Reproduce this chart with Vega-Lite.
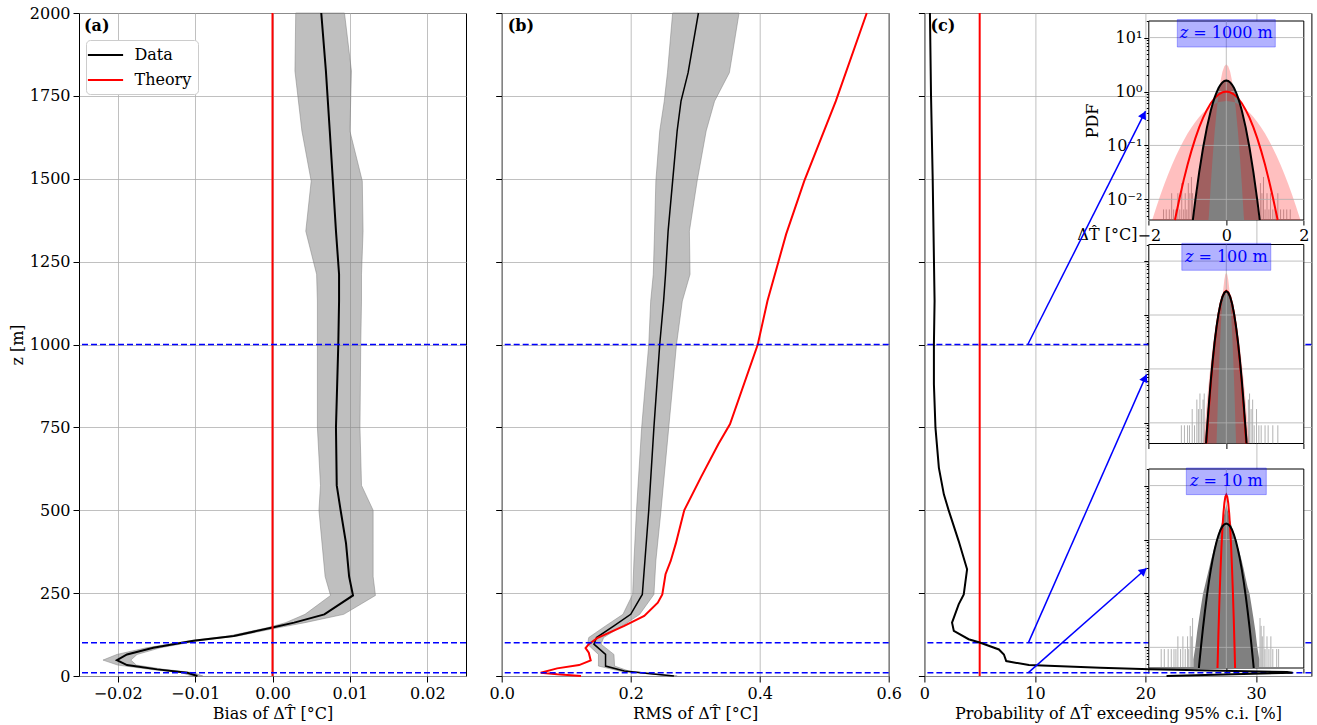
{
 "$schema": "https://vega.github.io/schema/vega-lite/v6.json",
 "padding": {"left": 8, "top": 4, "right": 2, "bottom": 2},
 "config": {
  "font": "DejaVu Serif",
  "view": {"stroke": "#000000", "strokeWidth": 1},
  "axis": {"labelFontSize": 16, "titleFontSize": 16, "titleFontWeight": "normal", "labelColor": "#000000", "titleColor": "#000000", "tickColor": "#000000", "domain": false, "gridColor": "#b0b0b0", "gridWidth": 0.8, "tickSize": 6, "labelFlush": false, "labelOverlap": false, "labelPadding": 3},
  "legend": {"labelFont": "DejaVu Serif"}
 },
 "datasets": {
  "zl": [{"z": 10}, {"z": 100}, {"z": 1000}],
  "gd": [{"g": 0.01}, {"g": 0.1}, {"g": 1}, {"g": 10}],
  "pa": [
   {"z": 0, "m": -0.0097, "lo": -0.0104, "hi": -0.0090},
   {"z": 10, "m": -0.0110, "lo": -0.0118, "hi": -0.0102},
   {"z": 20, "m": -0.0149, "lo": -0.0158, "hi": -0.0140},
   {"z": 33, "m": -0.0188, "lo": -0.0200, "hi": -0.0176},
   {"z": 48, "m": -0.0201, "lo": -0.0219, "hi": -0.0183},
   {"z": 65, "m": -0.0188, "lo": -0.0201, "hi": -0.0175},
   {"z": 85, "m": -0.0154, "lo": -0.0163, "hi": -0.0145},
   {"z": 106, "m": -0.0102, "lo": -0.0108, "hi": -0.0096},
   {"z": 121, "m": -0.0050, "lo": -0.0056, "hi": -0.0044},
   {"z": 146, "m": 0.0, "lo": -0.0006, "hi": 0.0008},
   {"z": 161, "m": 0.0028, "lo": 0.0017, "hi": 0.0042},
   {"z": 186, "m": 0.0067, "lo": 0.0042, "hi": 0.0092},
   {"z": 243, "m": 0.0104, "lo": 0.0075, "hi": 0.0133},
   {"z": 300, "m": 0.0099, "lo": 0.0068, "hi": 0.0130},
   {"z": 400, "m": 0.0095, "lo": 0.0064, "hi": 0.0130},
   {"z": 500, "m": 0.0088, "lo": 0.0060, "hi": 0.0130},
   {"z": 575, "m": 0.0083, "lo": 0.0062, "hi": 0.0115},
   {"z": 750, "m": 0.0082, "lo": 0.0058, "hi": 0.0113},
   {"z": 1000, "m": 0.0085, "lo": 0.0058, "hi": 0.0114},
   {"z": 1131, "m": 0.0086, "lo": 0.0058, "hi": 0.0115},
   {"z": 1212, "m": 0.0086, "lo": 0.0057, "hi": 0.0115},
   {"z": 1342, "m": 0.0082, "lo": 0.0043, "hi": 0.0117},
   {"z": 1493, "m": 0.0078, "lo": 0.0050, "hi": 0.0116},
   {"z": 1644, "m": 0.0074, "lo": 0.0038, "hi": 0.0100},
   {"z": 1825, "m": 0.0069, "lo": 0.0029, "hi": 0.0102},
   {"z": 2000, "m": 0.0063, "lo": 0.0030, "hi": 0.0093}
  ],
  "pb": [
   {"z": 0, "m": 0.267, "lo": 0.262, "hi": 0.272},
   {"z": 7, "m": 0.231, "lo": 0.226, "hi": 0.236},
   {"z": 15, "m": 0.190, "lo": 0.183, "hi": 0.197},
   {"z": 30, "m": 0.161, "lo": 0.150, "hi": 0.175},
   {"z": 65, "m": 0.161, "lo": 0.150, "hi": 0.174},
   {"z": 96, "m": 0.143, "lo": 0.133, "hi": 0.154},
   {"z": 116, "m": 0.147, "lo": 0.135, "hi": 0.158},
   {"z": 151, "m": 0.174, "lo": 0.161, "hi": 0.187},
   {"z": 186, "m": 0.200, "lo": 0.188, "hi": 0.214},
   {"z": 246, "m": 0.218, "lo": 0.203, "hi": 0.236},
   {"z": 347, "m": 0.222, "lo": 0.205, "hi": 0.239},
   {"z": 500, "m": 0.228, "lo": 0.209, "hi": 0.247},
   {"z": 750, "m": 0.236, "lo": 0.217, "hi": 0.259},
   {"z": 1000, "m": 0.245, "lo": 0.228, "hi": 0.271},
   {"z": 1131, "m": 0.251, "lo": 0.231, "hi": 0.280},
   {"z": 1212, "m": 0.254, "lo": 0.235, "hi": 0.292},
   {"z": 1342, "m": 0.258, "lo": 0.237, "hi": 0.291},
   {"z": 1493, "m": 0.265, "lo": 0.239, "hi": 0.303},
   {"z": 1644, "m": 0.272, "lo": 0.245, "hi": 0.317},
   {"z": 1734, "m": 0.278, "lo": 0.252, "hi": 0.330},
   {"z": 1820, "m": 0.289, "lo": 0.257, "hi": 0.353},
   {"z": 2000, "m": 0.305, "lo": 0.265, "hi": 0.368}
  ],
  "pbr": [
   {"z": 0, "r": 0.123}, {"z": 5, "r": 0.086}, {"z": 10, "r": 0.0605}, {"z": 23, "r": 0.086},
   {"z": 33, "r": 0.120}, {"z": 47, "r": 0.138}, {"z": 70, "r": 0.135}, {"z": 84, "r": 0.130},
   {"z": 96, "r": 0.135}, {"z": 114, "r": 0.148}, {"z": 151, "r": 0.190}, {"z": 181, "r": 0.221},
   {"z": 221, "r": 0.242}, {"z": 246, "r": 0.249}, {"z": 307, "r": 0.254}, {"z": 347, "r": 0.262},
   {"z": 400, "r": 0.270}, {"z": 500, "r": 0.283}, {"z": 600, "r": 0.309}, {"z": 700, "r": 0.336},
   {"z": 760, "r": 0.354}, {"z": 1000, "r": 0.397}, {"z": 1131, "r": 0.412}, {"z": 1333, "r": 0.441},
   {"z": 1493, "r": 0.469}, {"z": 1734, "r": 0.518}, {"z": 2000, "r": 0.566}
  ],
  "pc": [
   {"z": 0, "p": 21.9}, {"z": 10, "p": 33.3}, {"z": 12, "p": 32.8}, {"z": 20, "p": 20.4},
   {"z": 25, "p": 15.9}, {"z": 33, "p": 9.45}, {"z": 45, "p": 7.4}, {"z": 65, "p": 7.19},
   {"z": 80, "p": 6.74}, {"z": 101, "p": 5.0}, {"z": 111, "p": 4.0}, {"z": 136, "p": 2.66},
   {"z": 161, "p": 2.5}, {"z": 216, "p": 3.1}, {"z": 246, "p": 3.56}, {"z": 322, "p": 3.86},
   {"z": 407, "p": 3.1}, {"z": 498, "p": 2.21}, {"z": 548, "p": 1.76}, {"z": 628, "p": 1.31},
   {"z": 749, "p": 1.0}, {"z": 880, "p": 0.86}, {"z": 1000, "p": 0.86}, {"z": 1131, "p": 0.92},
   {"z": 1500, "p": 0.75}, {"z": 1750, "p": 0.6}, {"z": 2000, "p": 0.5}
  ],
  "arrows": [
   {"id": 1, "x1": 9.35, "z1": 1000, "x2": 20.0, "z2": 1704},
   {"id": 2, "x1": 9.4, "z1": 100, "x2": 20.1, "z2": 910},
   {"id": 3, "x1": 9.4, "z1": 10, "x2": 20.1, "z2": 325}
  ],
  "heads": [
   {"id": 1, "x": 19.84, "z": 1693},
   {"id": 2, "x": 19.95, "z": 899},
   {"id": 3, "x": 19.83, "z": 317}
  ],
  "h1": [
   {"x": -0.85, "p": 0.00414}, {"x": -0.8, "p": 0.009}, {"x": -0.75, "p": 0.014}, {"x": -0.7, "p": 0.03},
   {"x": -0.65, "p": 0.05}, {"x": -0.6, "p": 0.085}, {"x": -0.55, "p": 0.14}, {"x": -0.5, "p": 0.2},
   {"x": -0.45, "p": 0.3}, {"x": -0.4, "p": 0.45}, {"x": -0.35, "p": 0.58}, {"x": -0.3, "p": 0.76},
   {"x": -0.25, "p": 0.95}, {"x": -0.2, "p": 1.15}, {"x": -0.15, "p": 1.35}, {"x": -0.1, "p": 1.5},
   {"x": -0.05, "p": 1.6}, {"x": 0, "p": 1.65}, {"x": 0.05, "p": 1.55}, {"x": 0.1, "p": 1.45},
   {"x": 0.15, "p": 1.3}, {"x": 0.2, "p": 1.1}, {"x": 0.25, "p": 0.9}, {"x": 0.3, "p": 0.78},
   {"x": 0.35, "p": 0.6}, {"x": 0.4, "p": 0.42}, {"x": 0.45, "p": 0.32}, {"x": 0.5, "p": 0.21},
   {"x": 0.55, "p": 0.13}, {"x": 0.6, "p": 0.09}, {"x": 0.65, "p": 0.055}, {"x": 0.7, "p": 0.028},
   {"x": 0.75, "p": 0.015}, {"x": 0.8, "p": 0.008}, {"x": 0.85, "p": 0.00414}
  ],
  "t1": [
   {"x": -1.62, "p": 0.0065}, {"x": -1.55, "p": 0.0065}, {"x": -1.47, "p": 0.0065}, {"x": -1.41, "p": 0.013},
   {"x": -1.36, "p": 0.0065}, {"x": -1.3, "p": 0.0065}, {"x": -1.25, "p": 0.013}, {"x": -1.2, "p": 0.0065},
   {"x": -1.15, "p": 0.02}, {"x": -1.1, "p": 0.0065}, {"x": -1.06, "p": 0.013}, {"x": -1.02, "p": 0.0065},
   {"x": -0.98, "p": 0.02}, {"x": -0.94, "p": 0.013}, {"x": -0.9, "p": 0.026}, {"x": -0.87, "p": 0.013},
   {"x": 0.88, "p": 0.02}, {"x": 0.92, "p": 0.013}, {"x": 0.96, "p": 0.026}, {"x": 1.0, "p": 0.0065},
   {"x": 1.05, "p": 0.013}, {"x": 1.1, "p": 0.0065}, {"x": 1.14, "p": 0.013}, {"x": 1.2, "p": 0.0065},
   {"x": 1.26, "p": 0.0065}, {"x": 1.33, "p": 0.013}, {"x": 1.4, "p": 0.0065}, {"x": 1.48, "p": 0.0065},
   {"x": 1.56, "p": 0.0065}, {"x": 1.65, "p": 0.0065}
  ],
  "b1": [
   {"x": -1.92, "lo": 0.00414, "hi": 0.00414}, {"x": -1.9, "lo": 0.00414, "hi": 0.00442},
   {"x": -1.8, "lo": 0.00414, "hi": 0.00739}, {"x": -1.7, "lo": 0.00414, "hi": 0.0120},
   {"x": -1.6, "lo": 0.00414, "hi": 0.0190}, {"x": -1.5, "lo": 0.00414, "hi": 0.0292},
   {"x": -1.4, "lo": 0.00414, "hi": 0.0437}, {"x": -1.3, "lo": 0.00414, "hi": 0.0636},
   {"x": -1.2, "lo": 0.00414, "hi": 0.090}, {"x": -1.1, "lo": 0.00414, "hi": 0.124},
   {"x": -1.0, "lo": 0.00414, "hi": 0.166}, {"x": -0.9, "lo": 0.00414, "hi": 0.216},
   {"x": -0.8, "lo": 0.00414, "hi": 0.273}, {"x": -0.7, "lo": 0.00414, "hi": 0.337},
   {"x": -0.6, "lo": 0.00414, "hi": 0.403}, {"x": -0.46, "lo": 0.00414, "hi": 0.496},
   {"x": -0.45, "lo": 0.00489, "hi": 0.502}, {"x": -0.4, "lo": 0.0191, "hi": 0.532},
   {"x": -0.35, "lo": 0.0633, "hi": 0.561}, {"x": -0.3, "lo": 0.179, "hi": 0.587},
   {"x": -0.25, "lo": 0.432, "hi": 0.610}, {"x": -0.2, "lo": 0.887, "hi": 0.629},
   {"x": -0.15, "lo": 1.553, "hi": 0.645}, {"x": -0.1, "lo": 2.317, "hi": 0.656},
   {"x": -0.05, "lo": 2.945, "hi": 0.663}, {"x": 0, "lo": 3.19, "hi": 0.665},
   {"x": 0.05, "lo": 2.945, "hi": 0.663}, {"x": 0.1, "lo": 2.317, "hi": 0.656},
   {"x": 0.15, "lo": 1.553, "hi": 0.645}, {"x": 0.2, "lo": 0.887, "hi": 0.629},
   {"x": 0.25, "lo": 0.432, "hi": 0.610}, {"x": 0.3, "lo": 0.179, "hi": 0.587},
   {"x": 0.35, "lo": 0.0633, "hi": 0.561}, {"x": 0.4, "lo": 0.0191, "hi": 0.532},
   {"x": 0.45, "lo": 0.00489, "hi": 0.502}, {"x": 0.46, "lo": 0.00414, "hi": 0.496},
   {"x": 0.6, "lo": 0.00414, "hi": 0.403}, {"x": 0.7, "lo": 0.00414, "hi": 0.337},
   {"x": 0.8, "lo": 0.00414, "hi": 0.273}, {"x": 0.9, "lo": 0.00414, "hi": 0.216},
   {"x": 1.0, "lo": 0.00414, "hi": 0.166}, {"x": 1.1, "lo": 0.00414, "hi": 0.124},
   {"x": 1.2, "lo": 0.00414, "hi": 0.090}, {"x": 1.3, "lo": 0.00414, "hi": 0.0636},
   {"x": 1.4, "lo": 0.00414, "hi": 0.0437}, {"x": 1.5, "lo": 0.00414, "hi": 0.0292},
   {"x": 1.6, "lo": 0.00414, "hi": 0.0190}, {"x": 1.7, "lo": 0.00414, "hi": 0.0120},
   {"x": 1.8, "lo": 0.00414, "hi": 0.00739}, {"x": 1.9, "lo": 0.00414, "hi": 0.00442},
   {"x": 1.92, "lo": 0.00414, "hi": 0.00414}
  ],
  "r1": [
   {"x": -1.325, "p": 0.00414}, {"x": -1.3, "p": 0.00508}, {"x": -1.2, "p": 0.01108}, {"x": -1.1, "p": 0.0227},
   {"x": -1.0, "p": 0.0438}, {"x": -0.9, "p": 0.0793}, {"x": -0.8, "p": 0.135}, {"x": -0.7, "p": 0.216},
   {"x": -0.6, "p": 0.324}, {"x": -0.5, "p": 0.456}, {"x": -0.4, "p": 0.605}, {"x": -0.3, "p": 0.753},
   {"x": -0.2, "p": 0.880}, {"x": -0.1, "p": 0.966}, {"x": 0, "p": 0.997}, {"x": 0.1, "p": 0.966},
   {"x": 0.2, "p": 0.880}, {"x": 0.3, "p": 0.753}, {"x": 0.4, "p": 0.605}, {"x": 0.5, "p": 0.456},
   {"x": 0.6, "p": 0.324}, {"x": 0.7, "p": 0.216}, {"x": 0.8, "p": 0.135}, {"x": 0.9, "p": 0.0793},
   {"x": 1.0, "p": 0.0438}, {"x": 1.1, "p": 0.0227}, {"x": 1.2, "p": 0.01108}, {"x": 1.3, "p": 0.00508},
   {"x": 1.325, "p": 0.00414}
  ],
  "k1": [
   {"x": -0.863, "p": 0.00414}, {"x": -0.8, "p": 0.00954}, {"x": -0.7, "p": 0.0317}, {"x": -0.6, "p": 0.0896},
   {"x": -0.5, "p": 0.216}, {"x": -0.4, "p": 0.444}, {"x": -0.35, "p": 0.599}, {"x": -0.3, "p": 0.777},
   {"x": -0.25, "p": 0.968}, {"x": -0.2, "p": 1.159}, {"x": -0.15, "p": 1.333}, {"x": -0.1, "p": 1.473},
   {"x": -0.05, "p": 1.564}, {"x": 0, "p": 1.596}, {"x": 0.05, "p": 1.564}, {"x": 0.1, "p": 1.473},
   {"x": 0.15, "p": 1.333}, {"x": 0.2, "p": 1.159}, {"x": 0.25, "p": 0.968}, {"x": 0.3, "p": 0.777},
   {"x": 0.35, "p": 0.599}, {"x": 0.4, "p": 0.444}, {"x": 0.5, "p": 0.216}, {"x": 0.6, "p": 0.0896},
   {"x": 0.7, "p": 0.0317}, {"x": 0.8, "p": 0.00954}, {"x": 0.863, "p": 0.00414}
  ],
  "h2": [
   {"x": -0.55, "p": 0.005}, {"x": -0.5, "p": 0.012}, {"x": -0.45, "p": 0.028}, {"x": -0.4, "p": 0.07},
   {"x": -0.35, "p": 0.16}, {"x": -0.3, "p": 0.34}, {"x": -0.25, "p": 0.64}, {"x": -0.2, "p": 1.08},
   {"x": -0.15, "p": 1.62}, {"x": -0.1, "p": 2.2}, {"x": -0.05, "p": 2.65}, {"x": 0, "p": 2.9},
   {"x": 0.05, "p": 2.6}, {"x": 0.1, "p": 2.15}, {"x": 0.15, "p": 1.58}, {"x": 0.2, "p": 1.04},
   {"x": 0.25, "p": 0.6}, {"x": 0.3, "p": 0.31}, {"x": 0.35, "p": 0.15}, {"x": 0.4, "p": 0.065},
   {"x": 0.45, "p": 0.026}, {"x": 0.5, "p": 0.011}, {"x": 0.55, "p": 0.005}
  ],
  "t2": [
   {"x": -1.16, "p": 0.009}, {"x": -1.08, "p": 0.009}, {"x": -1.0, "p": 0.009}, {"x": -0.95, "p": 0.009},
   {"x": -0.88, "p": 0.018}, {"x": -0.82, "p": 0.009}, {"x": -0.76, "p": 0.027}, {"x": -0.72, "p": 0.018},
   {"x": -0.68, "p": 0.035}, {"x": -0.64, "p": 0.018}, {"x": -0.6, "p": 0.027}, {"x": -0.57, "p": 0.035},
   {"x": 0.57, "p": 0.027}, {"x": 0.6, "p": 0.035}, {"x": 0.64, "p": 0.018}, {"x": 0.68, "p": 0.027},
   {"x": 0.72, "p": 0.009}, {"x": 0.78, "p": 0.018}, {"x": 0.84, "p": 0.009}, {"x": 0.9, "p": 0.009},
   {"x": 1.0, "p": 0.009}, {"x": 1.08, "p": 0.009}, {"x": 1.2, "p": 0.009}, {"x": 1.33, "p": 0.009}
  ],
  "b2": [
   {"x": -0.589, "lo": 0.00414, "hi": 0.00414},
   {"x": -0.55, "lo": 0.00414, "hi": 0.00933}, {"x": -0.5, "lo": 0.00414, "hi": 0.0245},
   {"x": -0.45, "lo": 0.00414, "hi": 0.0586}, {"x": -0.4, "lo": 0.00414, "hi": 0.128},
   {"x": -0.35, "lo": 0.00414, "hi": 0.255}, {"x": -0.3, "lo": 0.00414, "hi": 0.463},
   {"x": -0.252, "lo": 0.00414, "hi": 0.755},
   {"x": -0.25, "lo": 0.00463, "hi": 0.767}, {"x": -0.2, "lo": 0.0612, "hi": 1.160},
   {"x": -0.175, "lo": 0.18, "hi": 1.378}, {"x": -0.15, "lo": 0.457, "hi": 1.60},
   {"x": -0.125, "lo": 1.005, "hi": 1.815}, {"x": -0.1, "lo": 1.918, "hi": 2.01},
   {"x": -0.075, "lo": 3.17, "hi": 2.18}, {"x": -0.05, "lo": 4.54, "hi": 2.31},
   {"x": -0.025, "lo": 5.63, "hi": 2.39}, {"x": 0, "lo": 6.045, "hi": 2.418},
   {"x": 0.025, "lo": 5.63, "hi": 2.39}, {"x": 0.05, "lo": 4.54, "hi": 2.31},
   {"x": 0.075, "lo": 3.17, "hi": 2.18}, {"x": 0.1, "lo": 1.918, "hi": 2.01},
   {"x": 0.125, "lo": 1.005, "hi": 1.815}, {"x": 0.15, "lo": 0.457, "hi": 1.60},
   {"x": 0.175, "lo": 0.18, "hi": 1.378}, {"x": 0.2, "lo": 0.0612, "hi": 1.160},
   {"x": 0.25, "lo": 0.00463, "hi": 0.767}, {"x": 0.252, "lo": 0.00414, "hi": 0.755},
   {"x": 0.3, "lo": 0.00414, "hi": 0.463},
   {"x": 0.35, "lo": 0.00414, "hi": 0.255}, {"x": 0.4, "lo": 0.00414, "hi": 0.128},
   {"x": 0.45, "lo": 0.00414, "hi": 0.0586}, {"x": 0.5, "lo": 0.00414, "hi": 0.0245},
   {"x": 0.55, "lo": 0.00414, "hi": 0.00933}, {"x": 0.589, "lo": 0.00414, "hi": 0.00414}
  ],
  "r2": [
   {"x": -0.513, "p": 0.00414}, {"x": -0.5, "p": 0.0057}, {"x": -0.45, "p": 0.0185}, {"x": -0.4, "p": 0.0531},
   {"x": -0.35, "p": 0.135}, {"x": -0.3, "p": 0.301}, {"x": -0.25, "p": 0.596}, {"x": -0.2, "p": 1.042},
   {"x": -0.15, "p": 1.61}, {"x": -0.1, "p": 2.19}, {"x": -0.05, "p": 2.64}, {"x": 0, "p": 2.81},
   {"x": 0.05, "p": 2.64}, {"x": 0.1, "p": 2.19}, {"x": 0.15, "p": 1.61}, {"x": 0.2, "p": 1.042},
   {"x": 0.25, "p": 0.596}, {"x": 0.3, "p": 0.301}, {"x": 0.35, "p": 0.135}, {"x": 0.4, "p": 0.0531},
   {"x": 0.45, "p": 0.0185}, {"x": 0.5, "p": 0.0057}, {"x": 0.513, "p": 0.00414}
  ],
  "k2": [
   {"x": -0.523, "p": 0.00414}, {"x": -0.5, "p": 0.0072}, {"x": -0.45, "p": 0.0223}, {"x": -0.4, "p": 0.0613},
   {"x": -0.35, "p": 0.149}, {"x": -0.3, "p": 0.324}, {"x": -0.25, "p": 0.622}, {"x": -0.2, "p": 1.062},
   {"x": -0.15, "p": 1.61}, {"x": -0.1, "p": 2.17}, {"x": -0.05, "p": 2.59}, {"x": 0, "p": 2.75},
   {"x": 0.05, "p": 2.59}, {"x": 0.1, "p": 2.17}, {"x": 0.15, "p": 1.61}, {"x": 0.2, "p": 1.062},
   {"x": 0.25, "p": 0.622}, {"x": 0.3, "p": 0.324}, {"x": 0.35, "p": 0.149}, {"x": 0.4, "p": 0.0613},
   {"x": 0.45, "p": 0.0223}, {"x": 0.5, "p": 0.0072}, {"x": 0.523, "p": 0.00414}
  ],
  "h3": [
   {"x": -0.85, "p": 0.006}, {"x": -0.8, "p": 0.01}, {"x": -0.75, "p": 0.02}, {"x": -0.7, "p": 0.035},
   {"x": -0.65, "p": 0.06}, {"x": -0.6, "p": 0.1}, {"x": -0.55, "p": 0.14}, {"x": -0.5, "p": 0.2},
   {"x": -0.45, "p": 0.28}, {"x": -0.4, "p": 0.4}, {"x": -0.35, "p": 0.55}, {"x": -0.3, "p": 0.75},
   {"x": -0.25, "p": 1.0}, {"x": -0.2, "p": 1.3}, {"x": -0.15, "p": 1.7}, {"x": -0.1, "p": 2.2},
   {"x": -0.05, "p": 3.0}, {"x": 0, "p": 4.5}, {"x": 0.05, "p": 3.1}, {"x": 0.1, "p": 2.2},
   {"x": 0.15, "p": 1.65}, {"x": 0.2, "p": 1.3}, {"x": 0.25, "p": 1.0}, {"x": 0.3, "p": 0.72},
   {"x": 0.35, "p": 0.55}, {"x": 0.4, "p": 0.4}, {"x": 0.45, "p": 0.28}, {"x": 0.5, "p": 0.19},
   {"x": 0.55, "p": 0.13}, {"x": 0.6, "p": 0.1}, {"x": 0.65, "p": 0.06}, {"x": 0.7, "p": 0.035},
   {"x": 0.75, "p": 0.02}, {"x": 0.8, "p": 0.01}, {"x": 0.85, "p": 0.006}
  ],
  "t3": [
   {"x": -1.68, "p": 0.0093}, {"x": -1.6, "p": 0.0093}, {"x": -1.5, "p": 0.0093}, {"x": -1.42, "p": 0.0093},
   {"x": -1.35, "p": 0.0093}, {"x": -1.3, "p": 0.0093}, {"x": -1.25, "p": 0.016}, {"x": -1.18, "p": 0.0093},
   {"x": -1.12, "p": 0.016}, {"x": -1.06, "p": 0.0093}, {"x": -1.0, "p": 0.016}, {"x": -0.97, "p": 0.0093},
   {"x": -0.93, "p": 0.025}, {"x": -0.9, "p": 0.016}, {"x": -0.87, "p": 0.035}, {"x": 0.87, "p": 0.035},
   {"x": 0.9, "p": 0.025}, {"x": 0.93, "p": 0.016}, {"x": 0.97, "p": 0.025}, {"x": 1.0, "p": 0.0093},
   {"x": 1.05, "p": 0.016}, {"x": 1.1, "p": 0.0093}, {"x": 1.15, "p": 0.016}, {"x": 1.2, "p": 0.0093},
   {"x": 1.3, "p": 0.0093}, {"x": 1.35, "p": 0.0093}
  ],
  "b3": [
   {"x": -0.2448, "lo": 0.00414, "hi": 0.00414}, {"x": -0.225, "lo": 0.00414, "hi": 0.0129},
   {"x": -0.2126, "lo": 0.00414, "hi": 0.0255},
   {"x": -0.2, "lo": 0.0097, "hi": 0.0472},
   {"x": -0.175, "lo": 0.046, "hi": 0.148}, {"x": -0.15, "lo": 0.176, "hi": 0.400},
   {"x": -0.125, "lo": 0.548, "hi": 0.926}, {"x": -0.1, "lo": 1.388, "hi": 1.84},
   {"x": -0.075, "lo": 2.86, "hi": 3.14}, {"x": -0.05, "lo": 4.80, "hi": 4.59},
   {"x": -0.025, "lo": 6.54, "hi": 5.78}, {"x": 0, "lo": 7.25, "hi": 6.234},
   {"x": 0.025, "lo": 6.54, "hi": 5.78}, {"x": 0.05, "lo": 4.80, "hi": 4.59},
   {"x": 0.075, "lo": 2.86, "hi": 3.14}, {"x": 0.1, "lo": 1.388, "hi": 1.84},
   {"x": 0.125, "lo": 0.548, "hi": 0.926}, {"x": 0.15, "lo": 0.176, "hi": 0.400},
   {"x": 0.175, "lo": 0.046, "hi": 0.148}, {"x": 0.2, "lo": 0.0097, "hi": 0.0472},
   {"x": 0.2126, "lo": 0.00414, "hi": 0.0255},
   {"x": 0.225, "lo": 0.00414, "hi": 0.0129}, {"x": 0.2448, "lo": 0.00414, "hi": 0.00414}
  ],
  "r3": [
   {"x": -0.227, "p": 0.00414}, {"x": -0.225, "p": 0.0047}, {"x": -0.2, "p": 0.0216}, {"x": -0.175, "p": 0.083},
   {"x": -0.15, "p": 0.2665}, {"x": -0.125, "p": 0.716}, {"x": -0.1, "p": 1.606}, {"x": -0.075, "p": 3.01},
   {"x": -0.05, "p": 4.71}, {"x": -0.025, "p": 6.17}, {"x": 0, "p": 6.75}, {"x": 0.025, "p": 6.17},
   {"x": 0.05, "p": 4.71}, {"x": 0.075, "p": 3.01}, {"x": 0.1, "p": 1.606}, {"x": 0.125, "p": 0.716},
   {"x": 0.15, "p": 0.2665}, {"x": 0.175, "p": 0.083}, {"x": 0.2, "p": 0.0216}, {"x": 0.225, "p": 0.0047},
   {"x": 0.227, "p": 0.00414}
  ],
  "k3": [
   {"x": -0.708, "p": 0.00414}, {"x": -0.7, "p": 0.00475}, {"x": -0.65, "p": 0.0109}, {"x": -0.6, "p": 0.0235},
   {"x": -0.55, "p": 0.0477}, {"x": -0.5, "p": 0.0911}, {"x": -0.45, "p": 0.1635}, {"x": -0.4, "p": 0.276},
   {"x": -0.35, "p": 0.438}, {"x": -0.3, "p": 0.653}, {"x": -0.25, "p": 0.917}, {"x": -0.2, "p": 1.21},
   {"x": -0.15, "p": 1.50}, {"x": -0.1, "p": 1.75}, {"x": -0.05, "p": 1.92}, {"x": 0, "p": 1.98},
   {"x": 0.05, "p": 1.92}, {"x": 0.1, "p": 1.75}, {"x": 0.15, "p": 1.50}, {"x": 0.2, "p": 1.21},
   {"x": 0.25, "p": 0.917}, {"x": 0.3, "p": 0.653}, {"x": 0.35, "p": 0.438}, {"x": 0.4, "p": 0.276},
   {"x": 0.45, "p": 0.1635}, {"x": 0.5, "p": 0.0911}, {"x": 0.55, "p": 0.0477}, {"x": 0.6, "p": 0.0235},
   {"x": 0.65, "p": 0.0109}, {"x": 0.7, "p": 0.00475}, {"x": 0.708, "p": 0.00414}
  ]
 },
 "resolve": {"scale": {"color": "independent"}},
 "bounds": "flush",
 "spacing": 35.7,
 "hconcat": [
  {
   "width": 387, "height": 663,
   "layer": [
    {"data": {"name": "pa"},
     "mark": {"type": "area", "orient": "horizontal", "fill": "#808080", "fillOpacity": 0.5, "stroke": "#808080", "strokeOpacity": 0.5, "strokeWidth": 1},
     "encoding": {
      "y": {"field": "z", "type": "quantitative", "scale": {"domain": [0, 2000], "nice": false}, "axis": {"values": [0, 250, 500, 750, 1000, 1250, 1500, 1750, 2000], "format": "d", "title": "z [m]", "grid": true, "titlePadding": 4}},
      "x": {"field": "lo", "type": "quantitative", "scale": {"domain": [-0.025, 0.025], "nice": false, "zero": false}, "axis": {"values": [-0.02, -0.01, 0, 0.01, 0.02], "format": ".2f", "title": "Bias of ΔT̂ [°C]", "grid": true}},
      "x2": {"field": "hi"}
     }},
    {"data": {"name": "pa"},
     "mark": {"type": "line", "strokeWidth": 2},
     "encoding": {
      "y": {"field": "z", "type": "quantitative"},
      "x": {"field": "m", "type": "quantitative"},
      "order": {"field": "z", "type": "quantitative"},
      "color": {"datum": "Data", "type": "nominal", "scale": {"domain": ["Data", "Theory"], "range": ["#000000", "#ff0000"]},
       "legend": {"title": null, "orient": "none", "legendX": 7, "legendY": 27, "symbolType": "M-2.2,0H2.2", "symbolStrokeWidth": 2, "symbolSize": 256, "symbolOffset": 4.5, "labelFontSize": 16, "labelColor": "#000000", "fillColor": "#ffffff", "strokeColor": "#cccccc", "cornerRadius": 4, "padding": 6, "rowPadding": 8, "labelOffset": 20}}
     }},
    {"data": {"values": [{}]},
     "mark": {"type": "rule", "strokeWidth": 2},
     "encoding": {"x": {"datum": 0}, "color": {"datum": "Theory", "type": "nominal"}}},
    {"data": {"name": "zl"},
     "mark": {"type": "rule", "color": "#0000ff", "strokeDash": [6, 3], "strokeWidth": 1.5},
     "encoding": {"y": {"field": "z", "type": "quantitative"}}},
    {"data": {"values": [{}]},
     "mark": {"type": "text", "text": "(a)", "fontWeight": "bold", "fontSize": 16, "align": "left", "baseline": "top", "dx": 5, "dy": 5, "color": "#000000"},
     "encoding": {"x": {"datum": -0.025}, "y": {"datum": 2000}}}
   ]
  },
  {
   "width": 387, "height": 663,
   "layer": [
    {"data": {"name": "pb"},
     "mark": {"type": "area", "orient": "horizontal", "fill": "#808080", "fillOpacity": 0.5, "stroke": "#808080", "strokeOpacity": 0.5, "strokeWidth": 1},
     "encoding": {
      "y": {"field": "z", "type": "quantitative", "scale": {"domain": [0, 2000], "nice": false}, "axis": {"values": [0, 250, 500, 750, 1000, 1250, 1500, 1750, 2000], "title": null, "labels": false, "grid": true}},
      "x": {"field": "lo", "type": "quantitative", "scale": {"domain": [0, 0.6], "nice": false}, "axis": {"values": [0, 0.2, 0.4, 0.6], "format": ".1f", "title": "RMS of ΔT̂ [°C]", "grid": true}},
      "x2": {"field": "hi"}
     }},
    {"data": {"name": "pb"},
     "mark": {"type": "line", "strokeWidth": 1.5, "color": "#000000"},
     "encoding": {"y": {"field": "z", "type": "quantitative"}, "x": {"field": "m", "type": "quantitative"}, "order": {"field": "z", "type": "quantitative"}}},
    {"data": {"name": "pbr"},
     "mark": {"type": "line", "strokeWidth": 2, "color": "#ff0000"},
     "encoding": {"y": {"field": "z", "type": "quantitative"}, "x": {"field": "r", "type": "quantitative"}, "order": {"field": "z", "type": "quantitative"}}},
    {"data": {"name": "zl"},
     "mark": {"type": "rule", "color": "#0000ff", "strokeDash": [6, 3], "strokeWidth": 1.5},
     "encoding": {"y": {"field": "z", "type": "quantitative"}}},
    {"data": {"values": [{}]},
     "mark": {"type": "text", "text": "(b)", "fontWeight": "bold", "fontSize": 16, "align": "left", "baseline": "top", "dx": 6, "dy": 5, "color": "#000000"},
     "encoding": {"x": {"datum": 0}, "y": {"datum": 2000}}}
   ]
  },
  {
   "width": 387, "height": 663,
   "resolve": {"scale": {"x": "independent", "y": "independent"}, "axis": {"x": "independent", "y": "independent"}},
   "layer": [
    {
     "layer": [
      {"data": {"values": [{}]},
       "mark": {"type": "rule", "strokeWidth": 2, "color": "#ff0000"},
       "encoding": {"x": {"datum": 5, "type": "quantitative", "scale": {"domain": [0, 35], "nice": false}, "axis": {"orient": "bottom", "values": [0, 10, 20, 30], "format": "d", "title": "Probability of ΔT̂ exceeding 95% c.i. [%]", "grid": true}}}},
      {"data": {"name": "zl"},
       "mark": {"type": "rule", "color": "#0000ff", "strokeDash": [6, 3], "strokeWidth": 1.5},
       "encoding": {"y": {"field": "z", "type": "quantitative", "scale": {"domain": [0, 2000], "nice": false}, "axis": {"orient": "left", "values": [0, 250, 500, 750, 1000, 1250, 1500, 1750, 2000], "title": null, "labels": false, "grid": true}}}},
      {"data": {"name": "pc"},
       "mark": {"type": "line", "strokeWidth": 2, "color": "#000000"},
       "encoding": {"y": {"field": "z", "type": "quantitative"}, "x": {"field": "p", "type": "quantitative"}, "order": {"field": "z", "type": "quantitative"}}},
      {"data": {"name": "arrows"},
       "mark": {"type": "rule", "color": "#0000ff", "strokeWidth": 1.5},
       "encoding": {"x": {"field": "x1", "type": "quantitative"}, "y": {"field": "z1", "type": "quantitative"}, "x2": {"field": "x2"}, "y2": {"field": "z2"}}},
      {"data": {"name": "heads"}, "transform": [{"filter": "datum.id == 1"}],
       "mark": {"type": "point", "shape": "triangle-up", "filled": true, "color": "#0000ff", "opacity": 1, "size": 80, "angle": 26.8},
       "encoding": {"x": {"field": "x", "type": "quantitative"}, "y": {"field": "z", "type": "quantitative"}}},
      {"data": {"name": "heads"}, "transform": [{"filter": "datum.id == 2"}],
       "mark": {"type": "point", "shape": "triangle-up", "filled": true, "color": "#0000ff", "opacity": 1, "size": 80, "angle": 23.8},
       "encoding": {"x": {"field": "x", "type": "quantitative"}, "y": {"field": "z", "type": "quantitative"}}},
      {"data": {"name": "heads"}, "transform": [{"filter": "datum.id == 3"}],
       "mark": {"type": "point", "shape": "triangle-up", "filled": true, "color": "#0000ff", "opacity": 1, "size": 80, "angle": 48.6},
       "encoding": {"x": {"field": "x", "type": "quantitative"}, "y": {"field": "z", "type": "quantitative"}}},
      {"data": {"values": [{}]},
       "mark": {"type": "text", "text": "(c)", "fontWeight": "bold", "fontSize": 16, "align": "left", "baseline": "top", "dx": 6, "dy": 5, "color": "#000000"},
       "encoding": {"x": {"datum": 0}, "y": {"datum": 2000}}}
     ]
    },
    {
     "layer": [
      {"data": {"values": [{}]},
       "mark": {"type": "rect", "fill": "#ffffff", "stroke": "#000000", "strokeWidth": 1},
       "encoding": {
        "x": {"datum": -2, "type": "quantitative", "scale": {"domain": [-2, 2], "range": [224.4, 379.4], "nice": false, "zero": false},
         "axis": {"orient": "bottom", "offset": -456, "values": [-2, 0, 2], "format": "d", "grid": false, "tickSize": 5, "labelPadding": 2, "title": "ΔT̂ [°C]", "titleAlign": "right", "titleX": 212.5, "titleY": 19, "titleBaseline": "alphabetic"}},
        "x2": {"datum": 2},
        "y": {"datum": 0.00414, "type": "quantitative", "scale": {"type": "log", "domain": [0.00414, 20.3], "range": [207, 8], "nice": false},
         "axis": {"orient": "left", "offset": -224.4, "values": [0.005, 0.006, 0.007, 0.008, 0.009, 0.01, 0.02, 0.03, 0.04, 0.05, 0.06, 0.07, 0.08, 0.09, 0.1, 0.2, 0.3, 0.4, 0.5, 0.6, 0.7, 0.8, 0.9, 1, 2, 3, 4, 5, 6, 7, 8, 9, 10, 20],
          "tickSize": {"condition": {"test": "abs(log(datum.value)/LN10 - round(log(datum.value)/LN10)) < 0.001", "value": 5}, "value": 2.5},
          "grid": false, "labelPadding": 2,
          "labelExpr": "abs(log(datum.value)/LN10 - round(log(datum.value)/LN10)) < 0.001 ? (round(log(datum.value)/LN10) == 1 ? '10¹' : round(log(datum.value)/LN10) == 0 ? '10⁰' : round(log(datum.value)/LN10) == -1 ? '10⁻¹' : '10⁻²') : ''",
          "title": "PDF", "titlePadding": 6}},
        "y2": {"datum": 20.3}
       }},
      {"data": {"name": "h1"},
       "mark": {"type": "area", "color": "#808080"},
       "encoding": {"x": {"field": "x", "type": "quantitative"}, "y": {"field": "p", "type": "quantitative"}, "y2": {"datum": 0.00414}}},
      {"data": {"name": "t1"},
       "mark": {"type": "rule", "color": "#808080", "opacity": 0.6},
       "encoding": {"x": {"field": "x", "type": "quantitative"}, "y": {"field": "p", "type": "quantitative"}, "y2": {"datum": 0.00414}}},
      {"data": {"name": "b1"},
       "mark": {"type": "area", "color": "#ff0000", "opacity": 0.25},
       "encoding": {"x": {"field": "x", "type": "quantitative"}, "y": {"field": "lo", "type": "quantitative"}, "y2": {"field": "hi"}}},
      {"data": {"values": [{}]},
       "mark": {"type": "rule", "color": "#b0b0b0", "strokeWidth": 0.8},
       "encoding": {"x": {"datum": 0, "type": "quantitative"}, "y": {"datum": 0.00414, "type": "quantitative"}, "y2": {"datum": 20.3}}},
      {"data": {"name": "gd"},
       "mark": {"type": "rule", "color": "#b0b0b0", "strokeWidth": 0.8},
       "encoding": {"y": {"field": "g", "type": "quantitative"}, "x": {"datum": -2, "type": "quantitative"}, "x2": {"datum": 2}}},
      {"data": {"name": "r1"},
       "mark": {"type": "line", "color": "#ff0000", "strokeWidth": 2},
       "encoding": {"x": {"field": "x", "type": "quantitative"}, "y": {"field": "p", "type": "quantitative"}}},
      {"data": {"name": "k1"},
       "mark": {"type": "line", "color": "#000000", "strokeWidth": 2},
       "encoding": {"x": {"field": "x", "type": "quantitative"}, "y": {"field": "p", "type": "quantitative"}}},
      {"data": {"values": [{}]},
       "mark": {"type": "point", "shape": "M-1,-0.28H1V0.28H-1Z", "size": 9604, "filled": true, "fill": "#0000ff", "fillOpacity": 0.3, "stroke": "#0000ff", "strokeOpacity": 0.3, "strokeWidth": 1},
       "encoding": {"x": {"datum": 0, "type": "quantitative"}, "y": {"datum": 12, "type": "quantitative"}}},
      {"data": {"values": [{}]},
       "mark": {"type": "text", "text": "z", "fontStyle": "italic", "fontSize": 16, "align": "left", "baseline": "middle", "dx": -46.5, "color": "#0000ff"},
       "encoding": {"x": {"datum": 0, "type": "quantitative"}, "y": {"datum": 12, "type": "quantitative"}}},
      {"data": {"values": [{}]},
       "mark": {"type": "text", "text": "= 1000 m", "fontSize": 16, "align": "left", "baseline": "middle", "dx": -33, "color": "#0000ff"},
       "encoding": {"x": {"datum": 0, "type": "quantitative"}, "y": {"datum": 12, "type": "quantitative"}}}
     ]
    },
    {
     "layer": [
      {"data": {"values": [{}]},
       "mark": {"type": "rect", "fill": "#ffffff", "stroke": "#000000", "strokeWidth": 1},
       "encoding": {
        "x": {"datum": -2, "type": "quantitative", "scale": {"domain": [-2, 2], "range": [224.4, 379.4], "nice": false, "zero": false},
         "axis": {"orient": "bottom", "offset": -232.5, "values": [-2, 0, 2], "labels": false, "grid": false, "tickSize": 5, "title": null}},
        "x2": {"datum": 2},
        "y": {"datum": 0.00414, "type": "quantitative", "scale": {"type": "log", "domain": [0.00414, 20.3], "range": [430.5, 231.5], "nice": false},
         "axis": {"orient": "left", "offset": -224.4, "values": [0.005, 0.006, 0.007, 0.008, 0.009, 0.01, 0.02, 0.03, 0.04, 0.05, 0.06, 0.07, 0.08, 0.09, 0.1, 0.2, 0.3, 0.4, 0.5, 0.6, 0.7, 0.8, 0.9, 1, 2, 3, 4, 5, 6, 7, 8, 9, 10, 20],
          "tickSize": {"condition": {"test": "abs(log(datum.value)/LN10 - round(log(datum.value)/LN10)) < 0.001", "value": 5}, "value": 2.5},
          "grid": false, "labels": false, "title": null}},
        "y2": {"datum": 20.3}
       }},
      {"data": {"name": "h2"},
       "mark": {"type": "area", "color": "#808080"},
       "encoding": {"x": {"field": "x", "type": "quantitative"}, "y": {"field": "p", "type": "quantitative"}, "y2": {"datum": 0.00414}}},
      {"data": {"name": "t2"},
       "mark": {"type": "rule", "color": "#808080", "opacity": 0.6},
       "encoding": {"x": {"field": "x", "type": "quantitative"}, "y": {"field": "p", "type": "quantitative"}, "y2": {"datum": 0.00414}}},
      {"data": {"name": "b2"},
       "mark": {"type": "area", "color": "#ff0000", "opacity": 0.25},
       "encoding": {"x": {"field": "x", "type": "quantitative"}, "y": {"field": "lo", "type": "quantitative"}, "y2": {"field": "hi"}}},
      {"data": {"values": [{}]},
       "mark": {"type": "rule", "color": "#b0b0b0", "strokeWidth": 0.8},
       "encoding": {"x": {"datum": 0, "type": "quantitative"}, "y": {"datum": 0.00414, "type": "quantitative"}, "y2": {"datum": 20.3}}},
      {"data": {"name": "gd"},
       "mark": {"type": "rule", "color": "#b0b0b0", "strokeWidth": 0.8},
       "encoding": {"y": {"field": "g", "type": "quantitative"}, "x": {"datum": -2, "type": "quantitative"}, "x2": {"datum": 2}}},
      {"data": {"name": "r2"},
       "mark": {"type": "line", "color": "#ff0000", "strokeWidth": 2},
       "encoding": {"x": {"field": "x", "type": "quantitative"}, "y": {"field": "p", "type": "quantitative"}}},
      {"data": {"name": "k2"},
       "mark": {"type": "line", "color": "#000000", "strokeWidth": 2},
       "encoding": {"x": {"field": "x", "type": "quantitative"}, "y": {"field": "p", "type": "quantitative"}}},
      {"data": {"values": [{}]},
       "mark": {"type": "point", "shape": "M-1,-0.303H1V0.303H-1Z", "size": 7921, "filled": true, "fill": "#0000ff", "fillOpacity": 0.3, "stroke": "#0000ff", "strokeOpacity": 0.3, "strokeWidth": 1},
       "encoding": {"x": {"datum": 0, "type": "quantitative"}, "y": {"datum": 12, "type": "quantitative"}}},
      {"data": {"values": [{}]},
       "mark": {"type": "text", "text": "z", "fontStyle": "italic", "fontSize": 16, "align": "left", "baseline": "middle", "dx": -41.4, "color": "#0000ff"},
       "encoding": {"x": {"datum": 0, "type": "quantitative"}, "y": {"datum": 12, "type": "quantitative"}}},
      {"data": {"values": [{}]},
       "mark": {"type": "text", "text": "= 100 m", "fontSize": 16, "align": "left", "baseline": "middle", "dx": -27.9, "color": "#0000ff"},
       "encoding": {"x": {"datum": 0, "type": "quantitative"}, "y": {"datum": 12, "type": "quantitative"}}}
     ]
    },
    {
     "layer": [
      {"data": {"values": [{}]},
       "mark": {"type": "rect", "fill": "#ffffff", "stroke": "#000000", "strokeWidth": 1},
       "encoding": {
        "x": {"datum": -2, "type": "quantitative", "scale": {"domain": [-2, 2], "range": [224.4, 379.4], "nice": false, "zero": false},
         "axis": {"orient": "bottom", "offset": -8, "values": [-2, 0, 2], "labels": false, "grid": false, "tickSize": 5, "title": null}},
        "x2": {"datum": 2},
        "y": {"datum": 0.00414, "type": "quantitative", "scale": {"type": "log", "domain": [0.00414, 20.3], "range": [655, 456], "nice": false},
         "axis": {"orient": "left", "offset": -224.4, "values": [0.005, 0.006, 0.007, 0.008, 0.009, 0.01, 0.02, 0.03, 0.04, 0.05, 0.06, 0.07, 0.08, 0.09, 0.1, 0.2, 0.3, 0.4, 0.5, 0.6, 0.7, 0.8, 0.9, 1, 2, 3, 4, 5, 6, 7, 8, 9, 10, 20],
          "tickSize": {"condition": {"test": "abs(log(datum.value)/LN10 - round(log(datum.value)/LN10)) < 0.001", "value": 5}, "value": 2.5},
          "grid": false, "labels": false, "title": null}},
        "y2": {"datum": 20.3}
       }},
      {"data": {"name": "h3"},
       "mark": {"type": "area", "color": "#808080"},
       "encoding": {"x": {"field": "x", "type": "quantitative"}, "y": {"field": "p", "type": "quantitative"}, "y2": {"datum": 0.00414}}},
      {"data": {"name": "t3"},
       "mark": {"type": "rule", "color": "#808080", "opacity": 0.6},
       "encoding": {"x": {"field": "x", "type": "quantitative"}, "y": {"field": "p", "type": "quantitative"}, "y2": {"datum": 0.00414}}},
      {"data": {"name": "b3"},
       "mark": {"type": "area", "color": "#ff0000", "opacity": 0.25},
       "encoding": {"x": {"field": "x", "type": "quantitative"}, "y": {"field": "lo", "type": "quantitative"}, "y2": {"field": "hi"}}},
      {"data": {"values": [{}]},
       "mark": {"type": "rule", "color": "#b0b0b0", "strokeWidth": 0.8},
       "encoding": {"x": {"datum": 0, "type": "quantitative"}, "y": {"datum": 0.00414, "type": "quantitative"}, "y2": {"datum": 20.3}}},
      {"data": {"name": "gd"},
       "mark": {"type": "rule", "color": "#b0b0b0", "strokeWidth": 0.8},
       "encoding": {"y": {"field": "g", "type": "quantitative"}, "x": {"datum": -2, "type": "quantitative"}, "x2": {"datum": 2}}},
      {"data": {"name": "r3"},
       "mark": {"type": "line", "color": "#ff0000", "strokeWidth": 2},
       "encoding": {"x": {"field": "x", "type": "quantitative"}, "y": {"field": "p", "type": "quantitative"}}},
      {"data": {"name": "k3"},
       "mark": {"type": "line", "color": "#000000", "strokeWidth": 2},
       "encoding": {"x": {"field": "x", "type": "quantitative"}, "y": {"field": "p", "type": "quantitative"}}},
      {"data": {"values": [{}]},
       "mark": {"type": "point", "shape": "M-1,-0.333H1V0.333H-1Z", "size": 6400, "filled": true, "fill": "#0000ff", "fillOpacity": 0.3, "stroke": "#0000ff", "strokeOpacity": 0.3, "strokeWidth": 1},
       "encoding": {"x": {"datum": 0, "type": "quantitative"}, "y": {"datum": 12, "type": "quantitative"}}},
      {"data": {"values": [{}]},
       "mark": {"type": "text", "text": "z", "fontStyle": "italic", "fontSize": 16, "align": "left", "baseline": "middle", "dx": -36.3, "color": "#0000ff"},
       "encoding": {"x": {"datum": 0, "type": "quantitative"}, "y": {"datum": 12, "type": "quantitative"}}},
      {"data": {"values": [{}]},
       "mark": {"type": "text", "text": "= 10 m", "fontSize": 16, "align": "left", "baseline": "middle", "dx": -22.8, "color": "#0000ff"},
       "encoding": {"x": {"datum": 0, "type": "quantitative"}, "y": {"datum": 12, "type": "quantitative"}}}
     ]
    }
   ]
  }
 ]
}
